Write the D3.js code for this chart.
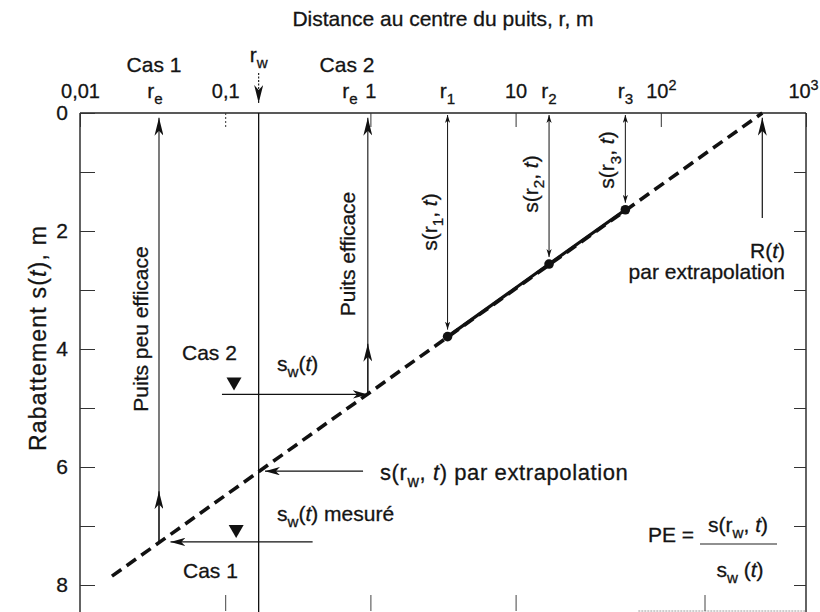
<!DOCTYPE html>
<html>
<head>
<meta charset="utf-8">
<script src="https://cdn.jsdelivr.net/npm/d3@7"></script>
<style>
  body { margin: 0; background: #fff; }
  text { font-family: "Liberation Sans", Arial, sans-serif; fill: #141414; stroke: #141414; stroke-width: 0.3px; }
</style>
</head>
<body>
<svg id="chart" width="820" height="612"></svg>
<script>
// ---- Axis ticks ----
const distanceTicks = [0.01, 0.1, 1, 10, 100, 1000];
const distanceTickLabels = ["0,01", "0,1", "1", "10", "10^2", "10^3"];
const bottomTicks = [0.1, 1, 10, 200];
const drawdownTicks = [0, 1, 2, 3, 4, 5, 6, 7, 8];
const drawdownLabelled = [0, 2, 4, 6, 8];

// ---- Observation wells (piezometers) at r1, r2, r3 ----
const piezoNames = ["1", "2", "3"];
const piezoR = [3.4, 17, 57];
const piezoS = [3.79, 2.56, 1.64];

// ---- Extrapolated straight line s(r) ----
const lineR = [0.0166, 500];
const lineS = [7.85, 0];

// ---- Well and radius of influence ----
const radiusOfInfluence = 500;
const wellRadius = 0.17;
const wellDrawdownExtrapolated = 6.07;

// ---- Case 1 (poorly efficient well) and case 2 (efficient well) ----
const caseNames = ["Cas 1", "Cas 2"];
const effectiveRadius = [0.035, 0.96];
const measuredDrawdown = [7.27, 4.77];
const levelLineFrom = [0.40, 0.095];
const levelLineTo = [0.042, 0.96];
const levelMarkerR = [0.119, 0.115];

const svg = d3.select("#chart");
const FS = 20;

const x = d3.scaleLog().domain([0.01, 1000]).range([80, 806]);
const y = d3.scaleLinear().domain([0, 8]).range([113, 585]);
const xL = x.range()[0], xR = x.range()[1];
const yTop = y(0), yBottom = 611;

// ---- Arrowhead markers ----
const defs = svg.append("defs");
function marker(id, len, half) {
  defs.append("marker")
    .attr("id", id)
    .attr("markerUnits", "userSpaceOnUse")
    .attr("viewBox", `${-len} ${-half} ${len + 1} ${half * 2}`)
    .attr("refX", 0).attr("refY", 0)
    .attr("markerWidth", len + 1).attr("markerHeight", half * 2)
    .attr("orient", "auto-start-reverse")
    .append("path")
    .attr("d", `M0,0 L${-len},${-half} L${-len * 0.72},0 L${-len},${half} Z`)
    .attr("fill", "#111");
}
marker("big", 18, 4.5);
marker("mid", 15, 4.2);
marker("small", 8, 2.6);

// ---- Rich text helper: parts are [text, kind] with kind "", "sub", "sup", "it" ----
function rich(sel, parts, size) {
  let shift = 0;
  parts.forEach(([txt, kind]) => {
    const want = kind === "sub" ? size * 0.3 : kind === "sup" ? -size * 0.42 : 0;
    const t = sel.append("tspan").text(txt);
    if (want !== shift) t.attr("dy", want - shift);
    shift = want;
    if (kind === "sub" || kind === "sup") t.attr("font-size", size * 0.72);
    if (kind === "it") t.attr("font-style", "italic");
  });
  return sel;
}
function label(px, py, parts, opts = {}) {
  const size = opts.size || FS;
  const t = svg.append("text")
    .attr("x", px).attr("y", py)
    .attr("font-size", size)
    .attr("text-anchor", opts.anchor || "start");
  if (opts.spacing) t.attr("letter-spacing", opts.spacing);
  if (opts.rotate) t.attr("transform", `rotate(-90, ${px}, ${py})`);
  return rich(t, parts, size);
}

// ---- Frame ----
const frame = svg.append("g").attr("fill", "none").attr("stroke", "#222");
frame.append("line").attr("x1", xL).attr("x2", xR).attr("y1", yTop).attr("y2", yTop).attr("stroke-width", 1.6);
frame.append("line").attr("x1", xL).attr("x2", xL).attr("y1", yTop).attr("y2", yBottom + 1).attr("stroke-width", 1.4);
frame.append("line").attr("x1", xR).attr("x2", xR).attr("y1", yTop).attr("y2", yBottom + 1).attr("stroke-width", 1.4);
frame.append("line").attr("x1", x(70)).attr("x2", xR).attr("y1", yBottom).attr("y2", yBottom)
  .attr("stroke", "#999").attr("stroke-width", 1).attr("stroke-dasharray", "2,1");

// ---- Top distance axis ----
const topAxis = svg.append("g")
  .attr("transform", `translate(0,${yTop})`)
  .call(d3.axisTop(x).tickValues(distanceTicks).tickSizeInner(-14).tickSizeOuter(0).tickPadding(15).tickFormat(""));
topAxis.select(".domain").remove();
topAxis.selectAll(".tick line").attr("stroke", "#333").attr("stroke-width", 1)
  .attr("stroke-dasharray", d => d === 0.1 ? "2,2" : null);
topAxis.selectAll(".tick text").each(function (d, i) {
  const lab = distanceTickLabels[i];
  const sel = d3.select(this).attr("font-size", FS).attr("fill", null).attr("font-family", null);
  if (i === distanceTickLabels.length - 1) sel.attr("dx", -3);
  if (lab.includes("^")) {
    const [base, exp] = lab.split("^");
    rich(sel, [[base, ""], [exp, "sup"]], FS);
  } else {
    sel.text(lab);
  }
});

// ---- Left drawdown axis (ticks point inwards) ----
const leftAxis = svg.append("g")
  .attr("transform", `translate(${xL},0)`)
  .call(d3.axisLeft(y).tickValues(drawdownTicks).tickSizeInner(-15).tickSizeOuter(0).tickPadding(12)
    .tickFormat(d => drawdownLabelled.includes(d) ? d : ""));
leftAxis.select(".domain").remove();
leftAxis.selectAll(".tick line").attr("stroke", "#333").attr("stroke-width", 1);
leftAxis.selectAll(".tick text").attr("font-size", 21).attr("fill", null).attr("font-family", null);

// ---- Right axis ticks ----
const rightAxis = svg.append("g")
  .attr("transform", `translate(${xR},0)`)
  .call(d3.axisLeft(y).tickValues(drawdownTicks.slice(1)).tickSizeInner(12).tickSizeOuter(0).tickFormat(""));
rightAxis.select(".domain").remove();
rightAxis.selectAll(".tick line").attr("stroke", "#333").attr("stroke-width", 1);

// ---- Bottom axis ticks ----
const bottomAxis = svg.append("g")
  .attr("transform", `translate(0,${yBottom})`)
  .call(d3.axisBottom(x).tickValues(bottomTicks).tickSizeInner(-16).tickSizeOuter(0).tickFormat(""));
bottomAxis.select(".domain").remove();
bottomAxis.selectAll(".tick line").attr("stroke", "#444").attr("stroke-width", 1);

// ---- Axis titles ----
label(443, 26, [["Distance au centre du puits, r, m", ""]], { anchor: "middle", size: 21 });
label(46, 338, [["Rabattement s(", ""], ["t", "it"], ["), m", ""]], { anchor: "middle", rotate: true, size: 23, spacing: 1.2 });

// ---- Well radius r_w: vertical line and pointer ----
svg.append("line").attr("x1", x(wellRadius)).attr("x2", x(wellRadius))
  .attr("y1", yTop).attr("y2", yBottom + 1).attr("stroke", "#111").attr("stroke-width", 1.3);
svg.append("line").attr("x1", x(wellRadius)).attr("x2", x(wellRadius))
  .attr("y1", 73).attr("y2", 103).attr("stroke", "#111").attr("stroke-width", 1.1)
  .attr("stroke-dasharray", "2,1.5").attr("marker-end", "url(#big)");
label(x(wellRadius), 62, [["r", ""], ["w", "sub"]], { anchor: "middle", size: 21 });

// ---- Extrapolated straight line (dashed) and fitted segment (solid) ----
const lineGen = d3.line().x(d => x(d[0])).y(d => y(d[1]));
svg.append("path")
  .datum(lineR.map((r, i) => [r, lineS[i]]))
  .attr("d", lineGen).attr("fill", "none").attr("stroke", "#111")
  .attr("stroke-width", 3.6).attr("stroke-dasharray", "11.5,6.5");
const piezo = piezoR.map((r, i) => [r, piezoS[i]]);
svg.append("path")
  .datum(piezo)
  .attr("d", lineGen).attr("fill", "none").attr("stroke", "#111").attr("stroke-width", 3.2);
svg.selectAll("circle.piezo").data(piezo).join("circle")
  .attr("class", "piezo")
  .attr("cx", d => x(d[0])).attr("cy", d => y(d[1])).attr("r", 4.8).attr("fill", "#111");

// ---- Drawdown arrows s(r_i, t) ----
svg.selectAll("line.sArrow").data(piezo).join("line")
  .attr("class", "sArrow")
  .attr("x1", d => x(d[0])).attr("x2", d => x(d[0]))
  .attr("y1", yTop + 2).attr("y2", d => y(d[1]) - 7)
  .attr("stroke", "#111").attr("stroke-width", 1)
  .attr("marker-start", "url(#small)").attr("marker-end", "url(#small)");
const sLabelY = [222, 184, 160];
piezo.forEach((d, i) => {
  label(x(d[0]), 98, [["r", ""], [piezoNames[i], "sub"]], { anchor: "middle", size: 21 });
  label(x(d[0]) - 11, sLabelY[i], [["s(r", ""], [piezoNames[i], "sub"], [", ", ""], ["t", "it"], [")", ""]],
    { anchor: "middle", rotate: true, size: 21 });
});

// ---- Radius of influence R(t) ----
svg.append("line")
  .attr("x1", x(radiusOfInfluence)).attr("x2", x(radiusOfInfluence))
  .attr("y1", y(1.78)).attr("y2", y(0.08))
  .attr("stroke", "#111").attr("stroke-width", 1.2).attr("marker-end", "url(#big)");
label(785, 258, [["R(", ""], ["t", "it"], [")", ""]], { anchor: "end", size: 21 });
label(785, 279, [["par extrapolation", ""]], { anchor: "end", size: 21 });

// ---- s(r_w, t) by extrapolation ----
svg.append("line")
  .attr("x1", x(0.89)).attr("x2", x(0.188))
  .attr("y1", y(wellDrawdownExtrapolated)).attr("y2", y(wellDrawdownExtrapolated))
  .attr("stroke", "#111").attr("stroke-width", 1.2).attr("marker-end", "url(#mid)");
label(380, 480, [["s(r", ""], ["w", "sub"], [", ", ""], ["t", "it"], [") par extrapolation", ""]], { size: 22, spacing: 0.6 });

// ---- Cases 1 and 2: measured level, effective radius ----
caseNames.forEach((name, i) => {
  const re = effectiveRadius[i], sw = measuredDrawdown[i];
  // measured water level line with arrow to the extrapolated line
  svg.append("line")
    .attr("x1", x(levelLineFrom[i])).attr("x2", x(levelLineTo[i]))
    .attr("y1", y(sw)).attr("y2", y(sw))
    .attr("stroke", "#111").attr("stroke-width", 1.2).attr("marker-end", "url(#mid)");
  // water level triangle
  const tx = x(levelMarkerR[i]), ty = y(sw) - 4;
  svg.append("path")
    .attr("d", `M${tx},${ty} L${tx - 7.5},${ty - 13} L${tx + 7.5},${ty - 13} Z`)
    .attr("fill", "#111");
  // vertical line from the line up to the distance axis, with mid arrow
  svg.append("line")
    .attr("x1", x(re)).attr("x2", x(re)).attr("y1", y(sw)).attr("y2", y(0.08))
    .attr("stroke", "#111").attr("stroke-width", 1.1).attr("marker-end", "url(#big)");
  svg.append("line")
    .attr("x1", x(re)).attr("x2", x(re)).attr("y1", y(sw)).attr("y2", y(sw - 0.86))
    .attr("stroke", "#111").attr("stroke-width", 1.1).attr("marker-end", "url(#big)");
});

// Top labels for the two cases
label(154, 72, [["Cas 1", ""]], { anchor: "middle", size: 21 });
label(347, 72, [["Cas 2", ""]], { anchor: "middle", size: 21 });
label(155, 98, [["r", ""], ["e", "sub"]], { anchor: "middle", size: 21 });
label(350, 98, [["r", ""], ["e", "sub"]], { anchor: "middle", size: 21 });

// Vertical descriptions of the two wells
label(148, 329, [["Puits peu efficace", ""]], { anchor: "middle", rotate: true, size: 21 });
label(355, 254, [["Puits efficace", ""]], { anchor: "middle", rotate: true, size: 21 });

// Level annotations
label(182, 360, [["Cas 2", ""]], { size: 21 });
label(277, 371, [["s", ""], ["w", "sub"], ["(", ""], ["t", "it"], [")", ""]], { size: 21 });
label(277, 521, [["s", ""], ["w", "sub"], ["(", ""], ["t", "it"], [") mesuré", ""]], { size: 21 });
label(183, 578, [["Cas 1", ""]], { size: 21 });

// ---- Well efficiency formula ----
label(648, 542, [["PE =", ""]], { size: 21 });
label(738, 532, [["s(r", ""], ["w", "sub"], [", ", ""], ["t", "it"], [")", ""]], { anchor: "middle", size: 21 });
svg.append("line").attr("x1", 700).attr("x2", 777).attr("y1", 544).attr("y2", 544)
  .attr("stroke", "#222").attr("stroke-width", 1.2);
label(740, 577, [["s", ""], ["w", "sub"], [" (", ""], ["t", "it"], [")", ""]], { anchor: "middle", size: 21 });
</script>
</body>
</html>
